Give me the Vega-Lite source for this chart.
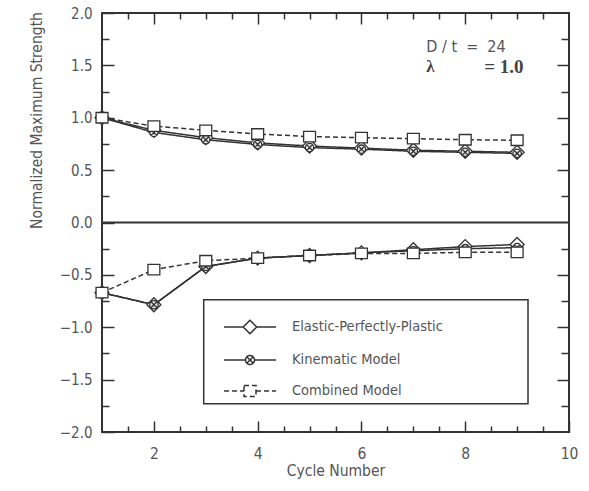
{
  "$schema": "https://vega.github.io/schema/vega-lite/v6.json",
  "width": 467,
  "height": 419,
  "autosize": "none",
  "padding": {"left": 102, "top": 13, "right": 20, "bottom": 59},
  "background": "white",
  "config": {
    "view": {"stroke": "#333", "strokeWidth": 2},
    "font": "DejaVu Sans Condensed, sans-serif",
    "axis": {
      "domain": false,
      "grid": false,
      "tickColor": "#333",
      "tickWidth": 1.5,
      "labelColor": "#555",
      "labelFont": "DejaVu Sans Condensed, sans-serif",
      "labelFontSize": 15,
      "titleFont": "DejaVu Sans Condensed, sans-serif",
      "titleColor": "#555",
      "titleFontWeight": "normal",
      "labelFlush": false,
      "labelOverlap": false
    },
    "legend": {
      "title": null,
      "orient": "none",
      "legendX": 132,
      "legendY": 298,
      "padding": 0,
      "symbolSize": 900,
      "symbolStrokeWidth": 1.5,
      "symbolStrokeColor": "#333",
      "symbolOpacity": 1,
      "labelOffset": 26,
      "rowPadding": 7,
      "labelFont": "DejaVu Sans Condensed, sans-serif",
      "labelFontSize": 14.5,
      "labelColor": "#555",
      "labelLimit": 300
    }
  },
  "data": {
    "values": [
      {"cycle": 1, "value": 1.0, "series": "Elastic-Perfectly-Plastic", "branch": "tension"},
      {"cycle": 2, "value": 0.88, "series": "Elastic-Perfectly-Plastic", "branch": "tension"},
      {"cycle": 3, "value": 0.81, "series": "Elastic-Perfectly-Plastic", "branch": "tension"},
      {"cycle": 4, "value": 0.76, "series": "Elastic-Perfectly-Plastic", "branch": "tension"},
      {"cycle": 5, "value": 0.73, "series": "Elastic-Perfectly-Plastic", "branch": "tension"},
      {"cycle": 6, "value": 0.71, "series": "Elastic-Perfectly-Plastic", "branch": "tension"},
      {"cycle": 7, "value": 0.69, "series": "Elastic-Perfectly-Plastic", "branch": "tension"},
      {"cycle": 8, "value": 0.68, "series": "Elastic-Perfectly-Plastic", "branch": "tension"},
      {"cycle": 9, "value": 0.67, "series": "Elastic-Perfectly-Plastic", "branch": "tension"},
      {"cycle": 1, "value": -0.67, "series": "Elastic-Perfectly-Plastic", "branch": "compression"},
      {"cycle": 2, "value": -0.785, "series": "Elastic-Perfectly-Plastic", "branch": "compression"},
      {"cycle": 3, "value": -0.42, "series": "Elastic-Perfectly-Plastic", "branch": "compression"},
      {"cycle": 4, "value": -0.34, "series": "Elastic-Perfectly-Plastic", "branch": "compression"},
      {"cycle": 5, "value": -0.315, "series": "Elastic-Perfectly-Plastic", "branch": "compression"},
      {"cycle": 6, "value": -0.29, "series": "Elastic-Perfectly-Plastic", "branch": "compression"},
      {"cycle": 7, "value": -0.26, "series": "Elastic-Perfectly-Plastic", "branch": "compression"},
      {"cycle": 8, "value": -0.23, "series": "Elastic-Perfectly-Plastic", "branch": "compression"},
      {"cycle": 9, "value": -0.21, "series": "Elastic-Perfectly-Plastic", "branch": "compression"},
      {"cycle": 1, "value": 1.0, "series": "Kinematic Model", "branch": "tension"},
      {"cycle": 2, "value": 0.86, "series": "Kinematic Model", "branch": "tension"},
      {"cycle": 3, "value": 0.79, "series": "Kinematic Model", "branch": "tension"},
      {"cycle": 4, "value": 0.745, "series": "Kinematic Model", "branch": "tension"},
      {"cycle": 5, "value": 0.715, "series": "Kinematic Model", "branch": "tension"},
      {"cycle": 6, "value": 0.70, "series": "Kinematic Model", "branch": "tension"},
      {"cycle": 7, "value": 0.68, "series": "Kinematic Model", "branch": "tension"},
      {"cycle": 8, "value": 0.67, "series": "Kinematic Model", "branch": "tension"},
      {"cycle": 9, "value": 0.66, "series": "Kinematic Model", "branch": "tension"},
      {"cycle": 1, "value": -0.67, "series": "Kinematic Model", "branch": "compression"},
      {"cycle": 2, "value": -0.785, "series": "Kinematic Model", "branch": "compression"},
      {"cycle": 3, "value": -0.42, "series": "Kinematic Model", "branch": "compression"},
      {"cycle": 4, "value": -0.34, "series": "Kinematic Model", "branch": "compression"},
      {"cycle": 5, "value": -0.315, "series": "Kinematic Model", "branch": "compression"},
      {"cycle": 6, "value": -0.29, "series": "Kinematic Model", "branch": "compression"},
      {"cycle": 7, "value": -0.27, "series": "Kinematic Model", "branch": "compression"},
      {"cycle": 8, "value": -0.25, "series": "Kinematic Model", "branch": "compression"},
      {"cycle": 9, "value": -0.24, "series": "Kinematic Model", "branch": "compression"},
      {"cycle": 1, "value": 1.0, "series": "Combined Model", "branch": "tension"},
      {"cycle": 2, "value": 0.92, "series": "Combined Model", "branch": "tension"},
      {"cycle": 3, "value": 0.88, "series": "Combined Model", "branch": "tension"},
      {"cycle": 4, "value": 0.845, "series": "Combined Model", "branch": "tension"},
      {"cycle": 5, "value": 0.82, "series": "Combined Model", "branch": "tension"},
      {"cycle": 6, "value": 0.81, "series": "Combined Model", "branch": "tension"},
      {"cycle": 7, "value": 0.80, "series": "Combined Model", "branch": "tension"},
      {"cycle": 8, "value": 0.79, "series": "Combined Model", "branch": "tension"},
      {"cycle": 9, "value": 0.785, "series": "Combined Model", "branch": "tension"},
      {"cycle": 1, "value": -0.67, "series": "Combined Model", "branch": "compression"},
      {"cycle": 2, "value": -0.45, "series": "Combined Model", "branch": "compression"},
      {"cycle": 3, "value": -0.365, "series": "Combined Model", "branch": "compression"},
      {"cycle": 4, "value": -0.34, "series": "Combined Model", "branch": "compression"},
      {"cycle": 5, "value": -0.315, "series": "Combined Model", "branch": "compression"},
      {"cycle": 6, "value": -0.295, "series": "Combined Model", "branch": "compression"},
      {"cycle": 7, "value": -0.295, "series": "Combined Model", "branch": "compression"},
      {"cycle": 8, "value": -0.285, "series": "Combined Model", "branch": "compression"},
      {"cycle": 9, "value": -0.285, "series": "Combined Model", "branch": "compression"}
    ]
  },
  "resolve": {"axis": {"x": "independent", "y": "independent"}},
  "layer": [
    {
      "data": {"values": [{}]},
      "mark": {"type": "rect", "fill": "transparent", "stroke": "#333", "strokeWidth": 1.5},
      "encoding": {
        "x": {"datum": 2.96, "type": "quantitative", "scale": {"domain": [1, 10], "nice": false, "zero": false}, "axis": null},
        "x2": {"datum": 9.21},
        "y": {"datum": -0.737, "type": "quantitative", "scale": {"domain": [-2, 2], "nice": false, "zero": false}, "axis": null},
        "y2": {"datum": -1.73}
      }
    },
    {
      "data": {"values": [{}]},
      "mark": {"type": "rule", "stroke": "#333", "strokeWidth": 2},
      "encoding": {
        "y": {"datum": 0, "type": "quantitative", "scale": {"domain": [-2, 2], "nice": false, "zero": false}, "axis": null}
      }
    },
    {
      "mark": {"type": "line", "color": "#333", "strokeWidth": 1.5},
      "encoding": {
        "x": {
          "field": "cycle", "type": "quantitative",
          "scale": {"domain": [1, 10], "nice": false, "zero": false},
          "axis": {
            "orient": "bottom",
            "values": [1.5, 2, 2.5, 3, 3.5, 4, 4.5, 5, 5.5, 6, 6.5, 7, 7.5, 8, 8.5, 9, 9.5, 10],
            "labelExpr": "datum.value % 2 === 0 ? '' + datum.value : ''",
            "tickSize": {"condition": {"test": "datum.value % 2 === 0", "value": -11}, "value": -6},
            "labelPadding": 25,
            "labelFontSize": 15.5,
            "title": "Cycle Number",
            "titleFontSize": 15.5,
            "titleY": 38,
            "titleBaseline": "middle"
          }
        },
        "y": {
          "field": "value", "type": "quantitative",
          "scale": {"domain": [-2, 2], "nice": false, "zero": false},
          "axis": {
            "orient": "left",
            "values": [-2, -1.75, -1.5, -1.25, -1, -0.75, -0.5, -0.25, 0, 0.25, 0.5, 0.75, 1, 1.25, 1.5, 1.75, 2],
            "format": ".1f",
            "labelExpr": "datum.value % 0.5 === 0 ? datum.label : ''",
            "tickSize": {"condition": {"test": "datum.value % 0.5 === 0", "value": -12}, "value": -7},
            "labelPadding": 22,
            "title": "Normalized Maximum Strength",
            "titleFontSize": 15.5,
            "titleX": -66,
            "titleY": 107,
            "titleAlign": "center",
            "titleBaseline": "middle",
            "titleAngle": 270
          }
        },
        "detail": {"field": "branch"},
        "strokeDash": {
          "field": "series", "type": "nominal",
          "scale": {"domain": ["Elastic-Perfectly-Plastic", "Kinematic Model", "Combined Model"], "range": [[1, 0], [1, 0], [5, 3]]}
        }
      }
    },
    {
      "transform": [{"filter": {"field": "series", "equal": "Elastic-Perfectly-Plastic"}}],
      "mark": {"type": "point", "shape": "M0,-1L1,0L0,1L-1,0Z", "filled": true, "fill": "white", "size": 196, "stroke": "#333", "strokeWidth": 1.3, "opacity": 1},
      "encoding": {
        "x": {
          "field": "cycle", "type": "quantitative",
          "scale": {"domain": [1, 10], "nice": false, "zero": false},
          "axis": {
            "orient": "top",
            "values": [1.5, 2, 2.5, 3, 3.5, 4, 4.5, 5, 5.5, 6, 6.5, 7, 7.5, 8, 8.5, 9, 9.5],
            "labels": false,
            "title": null,
            "tickSize": {"condition": {"test": "datum.value % 2 === 0", "value": -11}, "value": -6}
          }
        },
        "y": {
          "field": "value", "type": "quantitative",
          "scale": {"domain": [-2, 2], "nice": false, "zero": false},
          "axis": {
            "orient": "right",
            "values": [-1.75, -1.5, -1.25, -1, -0.75, -0.5, -0.25, 0.25, 0.5, 0.75, 1, 1.25, 1.5, 1.75],
            "labels": false,
            "title": null,
            "tickSize": {"condition": {"test": "datum.value % 0.5 === 0", "value": -12}, "value": -8}
          }
        }
      }
    },
    {
      "transform": [{"filter": {"field": "series", "equal": "Kinematic Model"}}],
      "mark": {"type": "point", "shape": "M-0.6,0A0.6,0.6,0,1,1,0.6,0A0.6,0.6,0,1,1,-0.6,0Z M-0.42,-0.42L0.42,0.42 M-0.42,0.42L0.42,-0.42", "filled": true, "fill": "#e4e4e4", "size": 196, "stroke": "#333", "strokeWidth": 1.3, "opacity": 1},
      "encoding": {
        "x": {"field": "cycle", "type": "quantitative", "scale": {"domain": [1, 10], "nice": false, "zero": false}, "axis": null},
        "y": {"field": "value", "type": "quantitative", "scale": {"domain": [-2, 2], "nice": false, "zero": false}, "axis": null}
      }
    },
    {
      "transform": [{"filter": {"field": "series", "equal": "Combined Model"}}],
      "mark": {"type": "point", "shape": "M-0.85,-0.75H0.85V0.75H-0.85Z", "filled": true, "fill": "white", "size": 196, "stroke": "#333", "strokeWidth": 1.3, "opacity": 1},
      "encoding": {
        "x": {"field": "cycle", "type": "quantitative", "scale": {"domain": [1, 10], "nice": false, "zero": false}, "axis": null},
        "y": {"field": "value", "type": "quantitative", "scale": {"domain": [-2, 2], "nice": false, "zero": false}, "axis": null}
      }
    },
    {
      "data": {"values": []},
      "mark": {"type": "point", "filled": false, "color": "#333", "strokeWidth": 1.5, "opacity": 1},
      "encoding": {
        "shape": {
          "field": "series", "type": "nominal",
          "scale": {
            "domain": ["Elastic-Perfectly-Plastic", "Kinematic Model", "Combined Model"],
            "range": [
              "M-1.73,0H-0.45M0.45,0H1.73M0,-0.45L0.45,0L0,0.45L-0.45,0Z",
              "M-1.73,0H-0.3M0.3,0H1.73M-0.3,0A0.3,0.3,0,1,1,0.3,0A0.3,0.3,0,1,1,-0.3,0ZM-0.21,-0.21L0.21,0.21M-0.21,0.21L0.21,-0.21",
              "M-1.73,0H-0.4M0.4,0H1.73M-0.4,-0.36H0.4V0.36H-0.4Z"
            ]
          }
        }
      }
    },
    {
      "data": {"values": [{}]},
      "mark": {"type": "text", "text": "D\u00a0/\u00a0t\u00a0\u00a0=\u00a0\u00a024", "align": "left", "baseline": "middle", "font": "DejaVu Sans Condensed, sans-serif", "fontSize": 16, "color": "#555"},
      "encoding": {
        "x": {"datum": 7.25, "type": "quantitative", "scale": {"domain": [1, 10], "nice": false, "zero": false}, "axis": null},
        "y": {"datum": 1.678, "type": "quantitative", "scale": {"domain": [-2, 2], "nice": false, "zero": false}, "axis": null}
      }
    },
    {
      "data": {"values": [{}]},
      "mark": {"type": "text", "text": "λ", "align": "left", "baseline": "middle", "font": "Liberation Serif", "fontWeight": "bold", "fontSize": 17, "color": "#444"},
      "encoding": {
        "x": {"datum": 7.25, "type": "quantitative", "scale": {"domain": [1, 10], "nice": false, "zero": false}, "axis": null},
        "y": {"datum": 1.487, "type": "quantitative", "scale": {"domain": [-2, 2], "nice": false, "zero": false}, "axis": null}
      }
    },
    {
      "data": {"values": [{}]},
      "mark": {"type": "text", "text": "= 1.0", "align": "left", "baseline": "middle", "font": "Liberation Serif", "fontWeight": "bold", "fontSize": 19, "color": "#444"},
      "encoding": {
        "x": {"datum": 8.365, "type": "quantitative", "scale": {"domain": [1, 10], "nice": false, "zero": false}, "axis": null},
        "y": {"datum": 1.487, "type": "quantitative", "scale": {"domain": [-2, 2], "nice": false, "zero": false}, "axis": null}
      }
    }
  ]
}
